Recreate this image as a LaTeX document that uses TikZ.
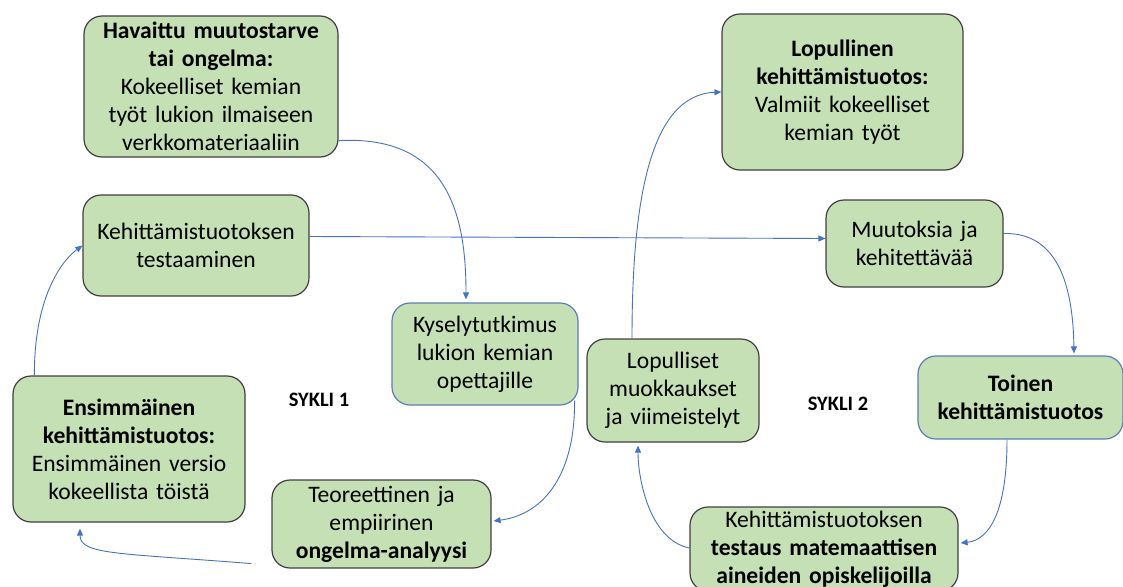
\documentclass[tikz,border=0pt]{standalone}
\usepackage{fontspec}
\setmainfont{Carlito}
\usetikzlibrary{arrows.meta,calc}
\pgfdeclarelayer{background}
\pgfsetlayers{background,main}
\definecolor{boxfill}{HTML}{C5E0B4}
\definecolor{boxline}{HTML}{404040}
\definecolor{boxblue}{HTML}{5B7DB8}
\definecolor{conncol}{HTML}{4472C4}
\tikzset{
  stage/.style={draw=boxline, fill=boxfill, line width=1.2pt, rounded corners=18pt,
    inner sep=0pt, align=center, font=\fontsize{23.6}{28}\selectfont},
  stageblue/.style={stage, draw=boxblue},
  conn/.style={draw=conncol, line width=0.9pt, -{Triangle[length=7pt,width=6pt]}},
  cyclelabel/.style={font=\fontsize{20.5}{24}\selectfont\bfseries, inner sep=0pt}
}
\begin{document}
\begin{tikzpicture}[x=1pt,y=-1pt]
\useasboundingbox (0,0) rectangle (1123,586);
\node[stage, text width=254pt, minimum height=141pt] (A) at (211,86.5)
  {\textbf{Havaittu muutostarve}\\\textbf{tai ongelma:}\\Kokeelliset kemian\\työt lukion ilmaiseen\\verkkomateriaaliin};
\node[stage, text width=226pt, minimum height=101pt] (B) at (196,245.5)
  {Kehittämistuotoksen\\testaaminen};
\node[stageblue, text width=186pt, minimum height=102pt] (C) at (485,354)
  {Kyselytutkimus\\lukion kemian\\opettajille};
\node[stage, text width=232pt, minimum height=146pt] (D) at (129,449)
  {\textbf{Ensimmäinen}\\\textbf{kehittämistuotos:}\\Ensimmäinen versio\\kokeellista töistä};
\node[stage, text width=219pt, minimum height=88pt] (E) at (381.5,524)
  {Teoreettinen ja\\empiirinen\\\textbf{ongelma-analyysi}};
\node[stage, text width=241pt, minimum height=156pt] (F) at (842.5,92)
  {\textbf{Lopullinen}\\\textbf{kehittämistuotos:}\\Valmiit kokeelliset\\kemian työt};
\node[stage, text width=177pt, minimum height=87pt] (G) at (914.5,243.5)
  {Muutoksia ja\\kehitettävää};
\node[stage, text width=172pt, minimum height=103pt] (H) at (673,390.5)
  {Lopulliset\\muokkaukset\\ja viimeistelyt};
\node[stageblue, text width=205pt, minimum height=83pt] (I) at (1020.5,397.5)
  {\textbf{Toinen}\\\textbf{kehittämistuotos}};
\node[stage, text width=268pt, minimum height=84pt] (J) at (824,549)
  {Kehittämistuotoksen\\\textbf{testaus matemaattisen}\\\textbf{aineiden opiskelijoilla}};
\node[cyclelabel] (S1) at (319,400) {SYKLI 1};
\node[cyclelabel] (S2) at (838,404) {SYKLI 2};
\coordinate (Etail) at ($(E.south west)+(-20,-5)$);
\begin{pgfonlayer}{background}
\draw[conn] ($(A.south east)+(0,-17)$) .. controls (445,135) and (466,210) .. ($(C.north)+(-19,-3)$);
\draw[conn] ($(B.east)+(0,-9)$) -- ($(G.west)+(0,-5)$);
\draw[conn] ($(C.south east)+(-4,-5)$) .. controls (575,480) and (540,515) .. ($(E.east)+(2,-3)$);
\draw[conn] (Etail) .. controls (120,553) and (80,555) .. ($(D.south)+(-49,6)$);
\draw[conn] ($(D.north west)+(22,0)$) .. controls (34,300) and (60,262) .. (B.west);
\draw[conn] ($(H.north)+(-41,0)$) .. controls (632,200) and (650,95) .. (F.west);
\draw[conn] ($(G.east)+(0,-10)$) .. controls (1060,232) and (1073,290) .. ($(I.north)+(53.5,-2)$);
\draw[conn] ($(I.south)+(-13.5,0)$) .. controls (1007,510) and (990,540) .. ($(J.east)+(2,-6)$);
\draw[conn] ($(J.west)+(0,-1)$) .. controls (650,540) and (638,480) .. ($(H.south)+(-35,3)$);
\end{pgfonlayer}
\end{tikzpicture}
\end{document}
